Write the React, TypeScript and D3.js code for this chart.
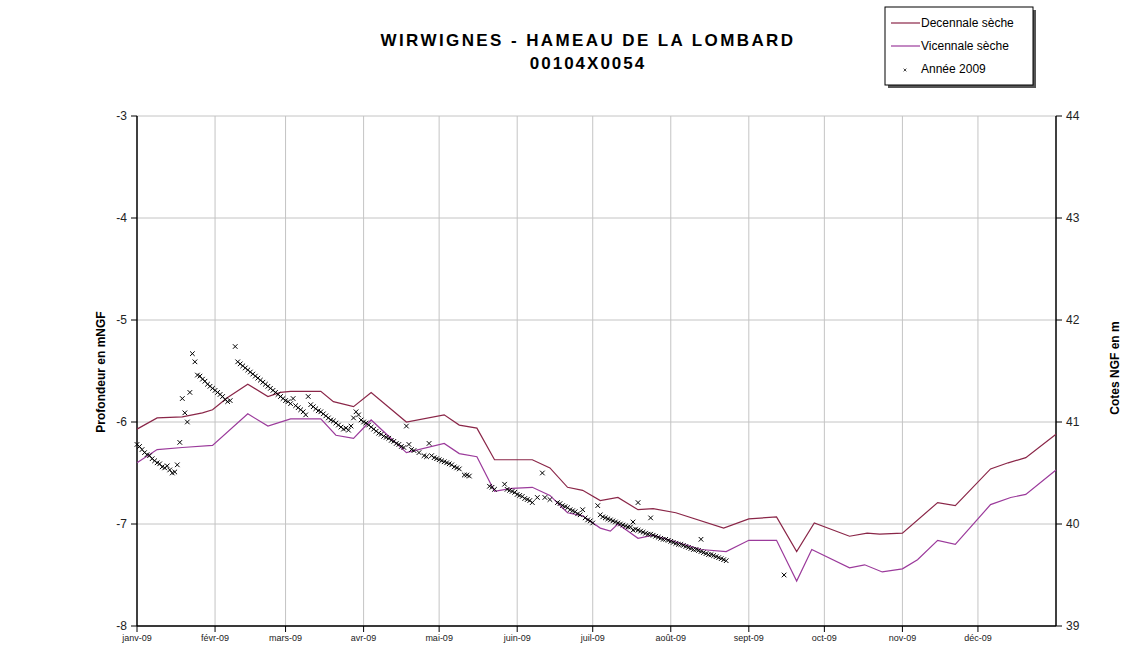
import * as d3 from 'd3';

// valeurs : [jour de l'année (0 = 1er janv.), profondeur en mNGF]
const decennale: [number, number][] = [
  [0, -6.07], [8, -5.96], [18, -5.95], [26, -5.91], [30, -5.88], [36, -5.76], [44, -5.63],
  [52, -5.75], [57, -5.71], [61, -5.7], [73, -5.7], [78, -5.8], [86, -5.85], [93, -5.71],
  [107, -6.0], [122, -5.93], [128, -6.03], [135, -6.06], [142, -6.37], [157, -6.37],
  [164, -6.45], [171, -6.64], [177, -6.67], [184, -6.77], [191, -6.74], [199, -6.86],
  [205, -6.85], [214, -6.89], [233, -7.04], [243, -6.95], [254, -6.93], [262, -7.27],
  [269, -6.99], [283, -7.12], [290, -7.09], [295, -7.1], [304, -7.09], [318, -6.79],
  [325, -6.82], [339, -6.46], [346, -6.4], [353, -6.35], [365, -6.12],
];

const vicennale: [number, number][] = [
  [0, -6.4], [8, -6.27], [18, -6.25], [30, -6.23], [44, -5.92], [52, -6.04], [61, -5.97],
  [73, -5.97], [79, -6.13], [86, -6.16], [93, -5.98], [107, -6.3], [122, -6.21], [128, -6.31],
  [135, -6.34], [142, -6.68], [149, -6.65], [157, -6.64], [164, -6.72], [171, -6.89],
  [177, -6.92], [184, -7.04], [188, -7.07], [191, -7.0], [199, -7.14], [205, -7.11],
  [224, -7.25], [234, -7.27], [243, -7.16], [254, -7.16], [262, -7.56], [268, -7.25],
  [283, -7.43], [289, -7.4], [296, -7.47], [304, -7.44], [310, -7.35], [318, -7.16],
  [325, -7.2], [339, -6.81], [347, -6.74], [353, -6.71], [365, -6.47],
];

const annee2009: [number, number][] = [
  [0, -6.22], [1, -6.24], [2, -6.27], [3, -6.3], [4, -6.32], [5, -6.33], [6, -6.36], [7, -6.38],
  [8, -6.4], [9, -6.41], [10, -6.44], [11, -6.45], [12, -6.43], [13, -6.47], [14, -6.5],
  [15, -6.49], [16, -6.42], [17, -6.2], [18, -5.77], [19, -5.91], [20, -6.0], [21, -5.71],
  [22, -5.33], [23, -5.41], [24, -5.54], [25, -5.55], [26, -5.58], [27, -5.6], [28, -5.63],
  [29, -5.65], [30, -5.67], [31, -5.69], [32, -5.71], [33, -5.73], [34, -5.75], [35, -5.78],
  [36, -5.8], [37, -5.79], [39, -5.26], [40, -5.41], [41, -5.43], [42, -5.45], [43, -5.47],
  [44, -5.49], [45, -5.51], [46, -5.53], [47, -5.55], [48, -5.57], [49, -5.59], [50, -5.61],
  [51, -5.63], [52, -5.65], [53, -5.67], [54, -5.69], [55, -5.71], [56, -5.73], [57, -5.75],
  [58, -5.77], [59, -5.79], [60, -5.8], [61, -5.82], [62, -5.77], [63, -5.84], [64, -5.86],
  [65, -5.88], [66, -5.9], [67, -5.93], [68, -5.75], [69, -5.83], [70, -5.85], [71, -5.87],
  [72, -5.89], [73, -5.9], [74, -5.92], [75, -5.94], [76, -5.96], [77, -5.98], [78, -5.99],
  [79, -6.01], [80, -6.03], [81, -6.05], [82, -6.07], [83, -6.06], [84, -6.08], [85, -6.04],
  [86, -5.96], [87, -5.9], [88, -5.93], [89, -5.98], [90, -6.0], [91, -6.01], [92, -6.03],
  [93, -6.05], [94, -6.07], [95, -6.09], [96, -6.11], [97, -6.12], [98, -6.14], [99, -6.15],
  [100, -6.16], [101, -6.18], [102, -6.19], [103, -6.21], [104, -6.22], [105, -6.24],
  [106, -6.25], [107, -6.04], [108, -6.22], [109, -6.27], [110, -6.28], [112, -6.3],
  [114, -6.33], [115, -6.34], [116, -6.21], [117, -6.33], [118, -6.35], [119, -6.36],
  [120, -6.37], [121, -6.38], [122, -6.39], [123, -6.4], [124, -6.41], [125, -6.42],
  [126, -6.44], [127, -6.45], [128, -6.46], [130, -6.52], [131, -6.52], [132, -6.53],
  [140, -6.63], [141, -6.64], [142, -6.66], [146, -6.61], [147, -6.66], [148, -6.67],
  [149, -6.68], [150, -6.69], [151, -6.71], [152, -6.72], [153, -6.73], [154, -6.75],
  [155, -6.76], [156, -6.77], [157, -6.79], [159, -6.74], [161, -6.5], [162, -6.74],
  [164, -6.76], [167, -6.79], [168, -6.8], [169, -6.82], [170, -6.83], [171, -6.84],
  [172, -6.86], [173, -6.87], [174, -6.88], [175, -6.9], [176, -6.91], [177, -6.86],
  [178, -6.94], [179, -6.96], [180, -6.97], [181, -6.99], [183, -6.82], [184, -6.91],
  [185, -6.93], [186, -6.94], [187, -6.95], [188, -6.96], [189, -6.97], [190, -6.98],
  [191, -6.99], [192, -7.0], [193, -7.01], [194, -7.02], [195, -7.03], [196, -7.03],
  [197, -6.98], [197, -7.06], [198, -7.05], [199, -6.79], [199, -7.06], [200, -7.07],
  [201, -7.08], [202, -7.09], [203, -7.1], [204, -6.94], [204, -7.1], [205, -7.11],
  [206, -7.12], [207, -7.13], [208, -7.14], [209, -7.15], [210, -7.15], [211, -7.16],
  [212, -7.17], [213, -7.18], [214, -7.19], [215, -7.2], [216, -7.2], [217, -7.21],
  [218, -7.22], [219, -7.23], [220, -7.24], [221, -7.25], [222, -7.25], [223, -7.26],
  [224, -7.15], [224, -7.27], [225, -7.28], [226, -7.29], [227, -7.3], [228, -7.3],
  [229, -7.31], [230, -7.32], [231, -7.33], [232, -7.34], [233, -7.35], [234, -7.36],
  [257, -7.5],
];

const monthLabels = ['janv-09', 'févr-09', 'mars-09', 'avr-09', 'mai-09', 'juin-09', 'juil-09', 'août-09', 'sept-09', 'oct-09', 'nov-09', 'déc-09'];
const leftTicks = [-3, -4, -5, -6, -7, -8];
const rightTicks = [44, 43, 42, 41, 40, 39];

const W = 1130;
const H = 666;
const start = new Date(2009, 0, 1);
const end = new Date(2010, 0, 1);

const x = d3.scaleTime().domain([start, end]).range([137, 1056]);
const y = d3.scaleLinear().domain([-8, -3]).range([626, 116]);
const yRight = d3.scaleLinear().domain([39, 44]).range([626, 116]);

const dx = (d: number) => x(d3.timeDay.offset(start, d));

const line = d3.line<[number, number]>()
  .x(d => dx(d[0]))
  .y(d => y(d[1]));

const cross = 'M-2.3,-2.3L2.3,2.3M-2.3,2.3L2.3,-2.3';
const colDec = '#8a2648';
const colVic = '#9b3a9b';
const font = 'Arial, "Liberation Sans", sans-serif';

export default function App() {
  const months = d3.timeMonth.range(start, end);
  return (
    <svg width={W} height={H} style={{ position: 'absolute', left: 0, top: 0, background: '#fff' }} fontFamily={font}>
      <rect width={W} height={H} fill="#fff" />

      {/* grille */}
      {leftTicks.map(t => (
        <line key={'h' + t} x1={137} x2={1056} y1={y(t)} y2={y(t)} stroke="#c4c4c4" strokeWidth={1} />
      ))}
      {months.slice(1).map((m, i) => (
        <line key={'v' + i} x1={x(m)} x2={x(m)} y1={116} y2={626} stroke="#c4c4c4" strokeWidth={1} />
      ))}

      {/* axes */}
      <line x1={137} x2={137} y1={116} y2={626} stroke="#000" strokeWidth={1.5} />
      <line x1={1056} x2={1056} y1={116} y2={626} stroke="#000" strokeWidth={1.5} />
      <line x1={137} x2={1056} y1={626} y2={626} stroke="#000" strokeWidth={1.5} />

      {leftTicks.map(t => (
        <g key={'l' + t}>
          <line x1={131} x2={137} y1={y(t)} y2={y(t)} stroke="#000" />
          <text x={127} y={y(t) + 4} textAnchor="end" fontSize={12} fill="#222">{t}</text>
        </g>
      ))}
      {rightTicks.map(t => (
        <g key={'r' + t}>
          <line x1={1056} x2={1062} y1={yRight(t)} y2={yRight(t)} stroke="#000" />
          <text x={1066} y={yRight(t) + 4} textAnchor="start" fontSize={12} fill="#222">{t}</text>
        </g>
      ))}
      {months.map((m, i) => (
        <g key={'m' + i}>
          <line x1={x(m)} x2={x(m)} y1={626} y2={632} stroke="#000" />
          <text x={x(m)} y={641} textAnchor="middle" fontSize={9} fill="#222">{monthLabels[i]}</text>
        </g>
      ))}

      <text transform="translate(105,372) rotate(-90)" textAnchor="middle" fontSize={12} fontWeight="bold">Profondeur en mNGF</text>
      <text transform="translate(1119,368) rotate(-90)" textAnchor="middle" fontSize={12} fontWeight="bold">Cotes NGF en m</text>

      {/* courbes */}
      <path d={line(decennale) ?? ''} fill="none" stroke={colDec} strokeWidth={1.2} />
      <path d={line(vicennale) ?? ''} fill="none" stroke={colVic} strokeWidth={1.2} />
      {annee2009.map((d, i) => (
        <path key={'p' + i} d={cross} transform={`translate(${dx(d[0])},${y(d[1])})`} stroke="#000" strokeWidth={1} fill="none" />
      ))}

      {/* titre */}
      <text x={588} y={46} textAnchor="middle" fontSize={17} fontWeight="bold" letterSpacing={2.4}>WIRWIGNES - HAMEAU DE LA LOMBARD</text>
      <text x={588} y={69} textAnchor="middle" fontSize={17} fontWeight="bold" letterSpacing={2}>00104X0054</text>

      {/* légende */}
      <rect x={888} y={10} width={148} height={78} fill="#555" />
      <rect x={885} y={7} width={148} height={78} fill="#fff" stroke="#000" strokeWidth={1} />
      <line x1={891} x2={920} y1={23} y2={23} stroke={colDec} strokeWidth={1.2} />
      <text x={921} y={27} fontSize={12}>Decennale sèche</text>
      <line x1={891} x2={920} y1={46} y2={46} stroke={colVic} strokeWidth={1.2} />
      <text x={921} y={50} fontSize={12}>Vicennale sèche</text>
      <path d={cross} transform="translate(905,70) scale(0.6)" stroke="#000" strokeWidth={1.2} fill="none" />
      <text x={921} y={73} fontSize={12}>Année 2009</text>
    </svg>
  );
}
